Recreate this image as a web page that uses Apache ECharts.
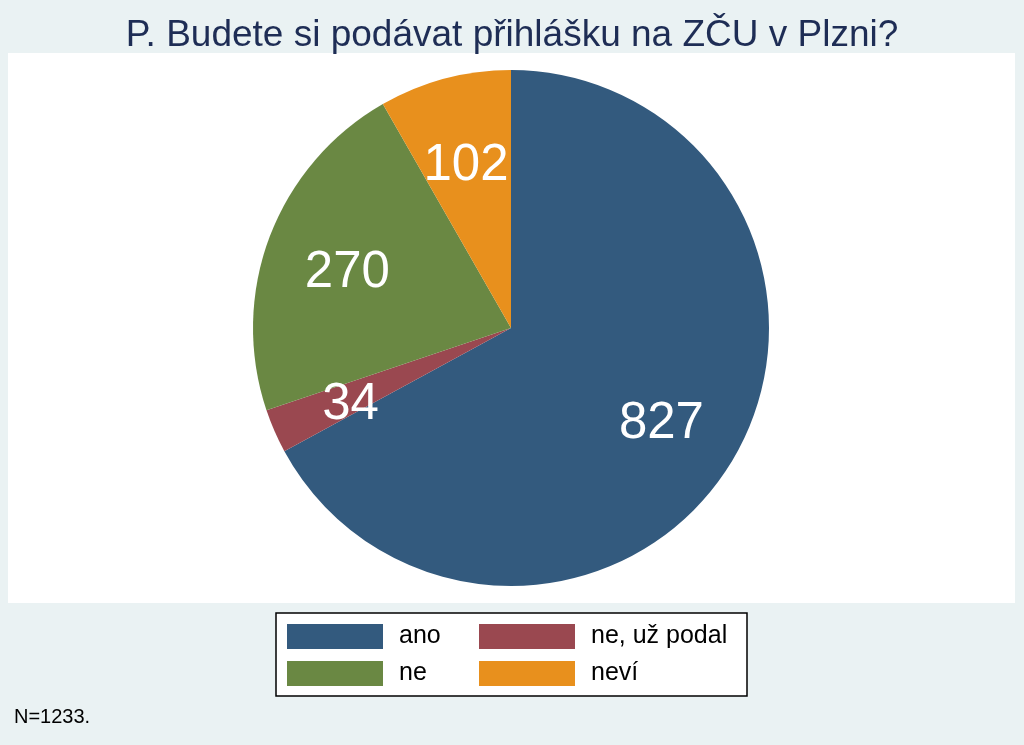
<!DOCTYPE html>
<html>
<head>
<meta charset="utf-8">
<title>ZČU</title>
<script src="https://cdn.jsdelivr.net/npm/echarts@6/dist/echarts.min.js"></script>
<style>
  html, body { margin: 0; padding: 0; background: #eaf2f3; }
  #chart { width: 1024px; height: 745px; }
</style>
</head>
<body>
<div id="chart"></div>
<script>
// odpovědi v pořadí výsečí (po směru hodin od 12h)
var categories = ['ano', 'ne, už podal', 'ne', 'neví'];
var counts = [827, 34, 270, 102];
var colors = ['#335a7e', '#9a4850', '#6a8843', '#e8901d'];
var legendLeft = ['ano', 'ne'];
var legendRight = ['ne, už podal', 'neví'];
var note = 'N=1233.';

var font = '"Liberation Sans", Arial, sans-serif';
var R = 258;
var center = [511, 328];

var pieData = categories.map(function (c, i) {
    return { name: c, value: counts[i], itemStyle: { color: colors[i] } };
});

function legendAt(left, names) {
    return {
        orient: 'vertical',
        left: left,
        top: 619,
        itemWidth: 96,
        itemHeight: 25,
        itemGap: 12,
        icon: 'rect',
        selectedMode: false,
        data: names,
        textStyle: {
            fontFamily: font,
            fontSize: 25,
            color: '#000',
            padding: [4, 0, 0, 11]
        }
    };
}

var myChart = echarts.init(document.getElementById('chart'));
var option = {
    backgroundColor: '#eaf2f3',
    animation: false,
    title: {
        text: 'P. Budete si podávat přihlášku na ZČU v Plzni?',
        left: 'center',
        top: 12,
        textStyle: {
            fontFamily: font,
            fontSize: 37,
            fontWeight: 'normal',
            color: '#1e2d55'
        }
    },
    legend: [legendAt(282, legendLeft), legendAt(474, legendRight)],
    graphic: [
        {
            type: 'rect',
            z: -10,
            shape: { x: 8, y: 53, width: 1007, height: 550 },
            style: { fill: '#fff' }
        },
        {
            type: 'rect',
            z: -5,
            shape: { x: 276, y: 613, width: 471, height: 83 },
            style: { fill: '#fff', stroke: '#000', lineWidth: 1.5 }
        },
        {
            type: 'text',
            left: 14,
            top: 707,
            style: { text: note, font: '20px ' + font, fill: '#000' }
        }
    ],
    series: [
        {
            type: 'pie',
            center: center,
            radius: [0, R],
            startAngle: 90,
            silent: true,
            label: { show: false },
            labelLine: { show: false },
            itemStyle: { borderWidth: 0 },
            data: pieData
        },
        {
            // průhledná vrstva jen pro popisky ve 2/3 poloměru
            type: 'pie',
            center: [center[0], center[1] + 7],
            radius: [R / 3, R],
            startAngle: 90,
            silent: true,
            z: 5,
            itemStyle: { color: 'rgba(0,0,0,0)', borderWidth: 0 },
            label: {
                show: true,
                position: 'inside',
                formatter: '{c}',
                color: '#fff',
                fontFamily: font,
                fontSize: 51
            },
            labelLine: { show: false },
            data: categories.map(function (c, i) {
                return { name: c, value: counts[i] };
            })
        }
    ]
};
myChart.setOption(option);
</script>
</body>
</html>
